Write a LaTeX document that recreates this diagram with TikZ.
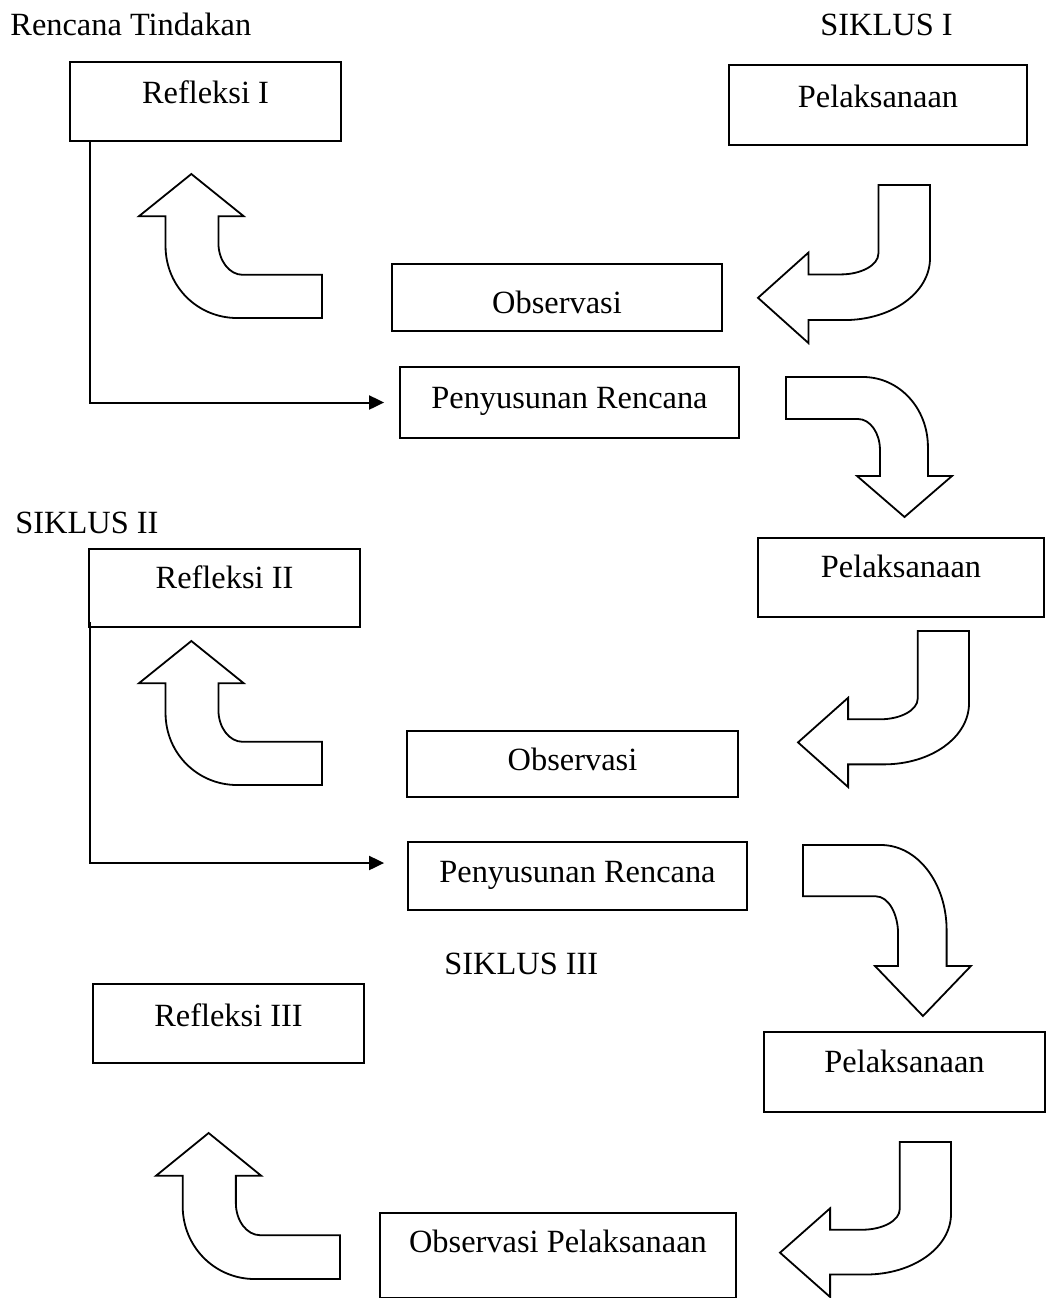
\documentclass[tikz,border=0pt]{standalone}
\usepackage{fontspec}
\setmainfont{Liberation Serif}
\usetikzlibrary{arrows.meta, calc}
\tikzset{
  box/.style={draw, line width=0.9pt, inner sep=0pt, anchor=base, font=\fontsize{16.2}{19}\selectfont},
  title/.style={inner sep=0pt, anchor=base west, font=\fontsize{16.2}{19}\selectfont},
  conn/.style={line width=1pt, -{Triangle[length=7.5pt, width=7pt]}},
  blockarr/.style={draw, line width=0.9pt, fill=white}
}
% bent block arrow: origin, rotation, length, width
\newcommand{\bentarrow}[4]{%
  \draw[blockarr, shift={(#1)}, rotate=#2, xscale=#3, yscale=#4]
    (0,0) -- (0.464,0) .. controls (0.68,0) and (0.855,0.22) .. (0.855,0.5)
    -- (0.855,0.707) -- (1,0.707) -- (0.714,1) -- (0.428,0.707) -- (0.566,0.707)
    -- (0.566,0.52) .. controls (0.566,0.40) and (0.507,0.30) .. (0.434,0.30)
    -- (0,0.30) -- cycle;}

\begin{document}
\begin{tikzpicture}[x=0.5pt, y=-0.5pt]
\useasboundingbox (0,0) rectangle (1047,1298);
% headings
\node[title] (rt) at (10,35) {Rencana Tindakan};
\node[title] (sk1) at (820,35) {SIKLUS I};
\node[title] (sk2) at (15,533) {SIKLUS II};
\node[title] (sk3) at (444,974) {SIKLUS III};

% siklus I
\node[box, minimum width=135.5pt, text height=20.5pt, text depth=19pt] (r1) at (205.5,103) {Refleksi I};
\node[box, minimum width=149pt, text height=21pt, text depth=19pt] (p1) at (878,107) {Pelaksanaan};
\node[box, minimum width=165pt, text height=24.5pt, text depth=9pt] (o1) at (557,313) {Observasi};
\node[box, minimum width=169.5pt, text height=20.5pt, text depth=15pt] (s1) at (569.5,408) {Penyusunan Rencana};
\bentarrow{930,185}{-90}{158}{172}
\bentarrow{322,318}{180}{183}{144}
\bentarrow{786,377}{0}{166}{140}
\draw[conn] ($(r1.south west)+(21,0)$) |- ($(s1.west)+(-15,0)$);

% siklus II
\node[box, minimum width=143pt, text height=19.5pt, text depth=20pt] (p2) at (901,577) {Pelaksanaan};
\node[box, minimum width=135.5pt, text height=19.5pt, text depth=19.5pt] (r2) at (224.5,588) {Refleksi II};
\node[box, minimum width=165.5pt, text height=19.5pt, text depth=13.5pt] (o2) at (572.5,770) {Observasi};
\node[box, minimum width=169.5pt, text height=20pt, text depth=14pt] (s2) at (577.5,882) {Penyusunan Rencana};
\bentarrow{969,631}{-90}{156}{171}
\bentarrow{322,785}{180}{183}{144}
\bentarrow{803,845}{0}{168}{171}
\draw[conn] ($(r2.south west)+(2,-6)$) |- ($(s2.west)+(-23,-13)$);

% siklus III
\node[box, minimum width=135.5pt, text height=21pt, text depth=18.5pt] (r3) at (228.5,1026) {Refleksi III};
\node[box, minimum width=140.5pt, text height=20pt, text depth=20pt] (p3) at (904.5,1072) {Pelaksanaan};
\node[box, minimum width=178pt, text height=19.5pt, text depth=23pt] (op) at (558,1252) {Observasi Pelaksanaan};
\bentarrow{951,1142}{-90}{155}{171}
\bentarrow{340,1279}{180}{184}{146}
\end{tikzpicture}
\end{document}
